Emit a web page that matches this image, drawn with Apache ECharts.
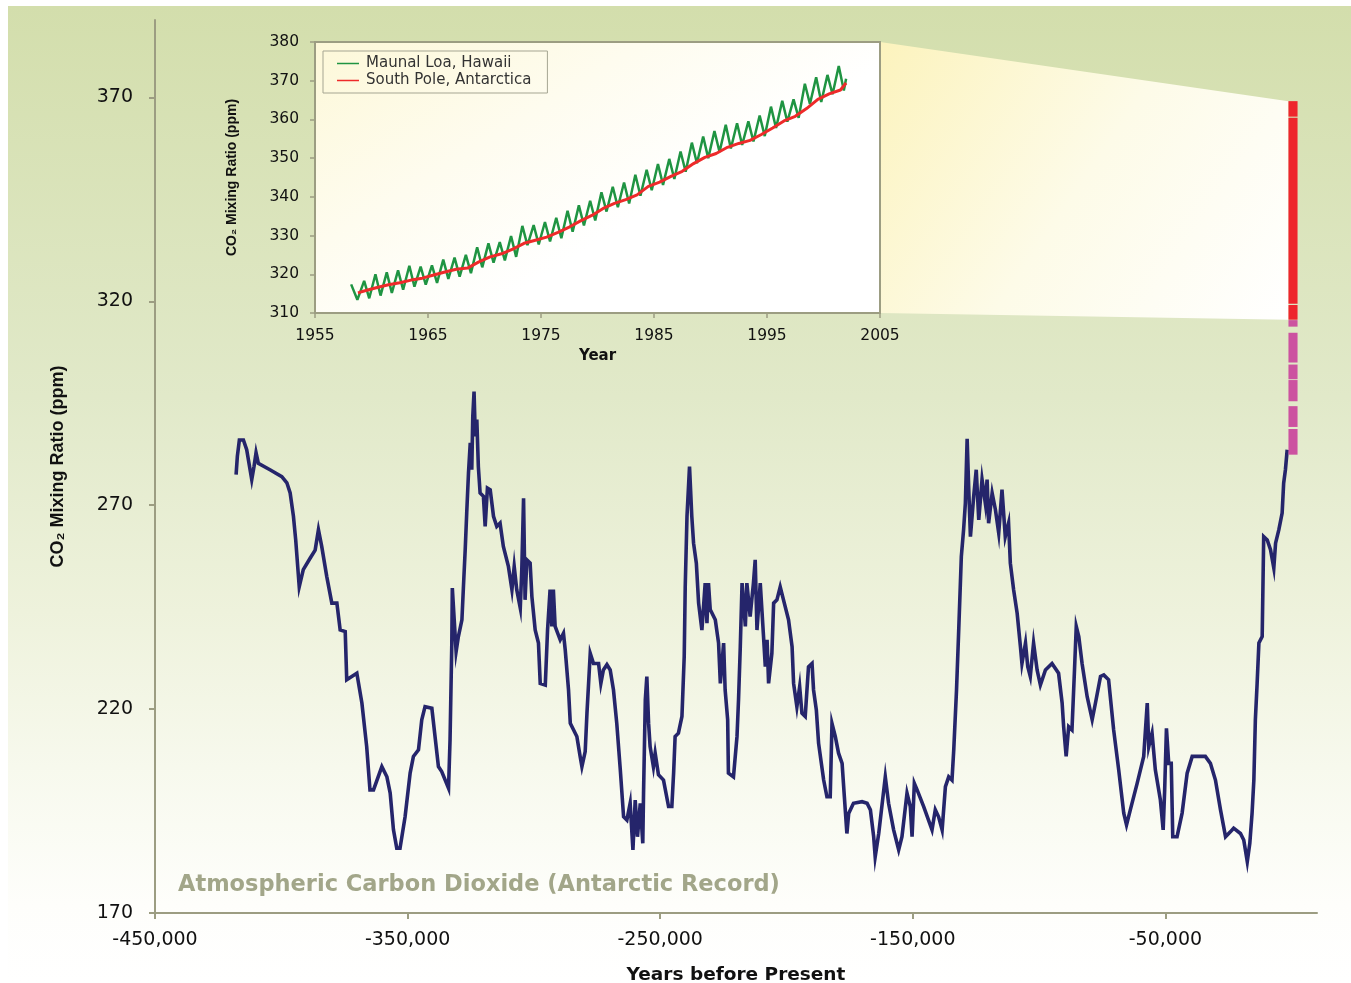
<!DOCTYPE html>
<html>
<head>
<meta charset="utf-8">
<title>Atmospheric Carbon Dioxide (Antarctic Record)</title>
<script src="https://cdn.jsdelivr.net/npm/echarts@6/dist/echarts.min.js"></script>
<style>
  html, body { margin: 0; padding: 0; background: #fff; }
  #main { width: 1351px; height: 983px; }
</style>
</head>
<body>
<div id="main"></div>
<script>
// ice core record, years before present / ppm
var coreYears = [
  -417900, -417400, -416600, -415000, -413700, -411700, -410800, -410000, -409100, -404500,
  -399800, -397800, -396500, -395200, -394300, -392900, -391300, -388600, -386600, -385300,
  -384000, -382000, -380000, -378000, -376700, -374700, -374100, -372100, -370100, -368100,
  -366200, -364900, -363500, -360200, -358200, -356900, -355600, -354300, -353000, -351000,
  -349000, -347700, -345700, -344400, -343100, -340400, -337800, -336500, -333800, -333200,
  -332500, -332300, -330800, -329900, -328500, -327900, -327200, -326600, -325900, -325200,
  -324600, -324200, -323700, -323200, -322600, -322000, -321300, -320000, -319300, -318400,
  -317300, -316000, -314700, -313400, -312100, -310100, -308700, -307800, -306800, -305400,
  -304800, -304100, -303500, -302800, -301500, -300800, -299500, -298200, -297500, -295500,
  -294600, -293600, -292900, -292300, -291600, -289600, -288300, -287600, -286300, -285600,
  -283000, -281700, -281000, -279700, -279000, -277700, -276400, -274400, -273500, -272500,
  -271100, -269800, -268500, -267200, -265800, -264500, -263200, -261900, -260800, -259900,
  -259000, -257900, -256900, -256600, -255900, -255300, -254600, -254000, -252700, -252000,
  -250700, -248700, -246700, -245400, -244700, -244100, -242800, -241400, -240500, -240100,
  -239400, -238400, -237500, -236800, -235700, -234800, -233500, -232200, -231500, -230900,
  -230200, -228200, -226900, -226200, -224900, -224300, -223300, -223000, -221000, -219600,
  -219000, -218300, -217600, -216300, -215700, -214400, -213100, -212400, -211700, -210400,
  -209100, -208400, -207700, -207100, -205800, -205100, -203800, -202500, -201200, -199200,
  -197800, -197200, -195900, -194800, -193900, -192600, -191300, -189900, -189300, -188200,
  -187300, -185300, -184000, -182700, -182000, -180700, -179400, -178000, -177100, -176100,
  -175400, -173500, -170100, -168100, -166800, -165500, -164900, -163500, -160900, -159600,
  -157600, -155600, -154300, -152300, -151000, -150300, -149400, -148300, -145700, -142400,
  -141100, -139800, -138400, -137100, -135800, -134500, -133800, -132700, -131900, -130800,
  -129900, -129200, -128500, -127900, -127200, -125900, -124900, -123900, -122600, -121300,
  -120600, -120000, -118600, -117300, -116000, -114700, -113400, -112100, -111400, -110100,
  -108700, -107400, -106800, -105400, -104500, -103500, -102200, -100800, -99500, -97500,
  -94900, -92300, -90900, -90300, -89300, -88300, -87000, -86000, -85300, -84300,
  -83000, -81000, -79000, -77700, -75700, -74400, -72500, -70500, -68500, -66500,
  -65400, -63900, -61200, -58600, -57200, -56600, -55300, -54000, -52000, -50900,
  -50300, -49600, -48700, -47700, -47100, -45400, -43400, -41400, -39400, -34200,
  -32200, -30200, -28200, -26200, -24300, -23000, -20300, -19000, -17600, -16600,
  -15700, -15000, -14400, -13700, -13000, -11700, -11100, -9700, -8400, -7100,
  -6400, -5100, -3800, -3200, -2500, -1800
];
var corePpm = [
  277.5, 282, 286, 286, 283.6, 276.3, 279.5, 282.9, 280.3, 278.7,
  277, 275.5, 273, 267.3, 261.5, 250, 254.2, 257, 259, 264,
  259.9, 252.5, 246, 246, 239.4, 239, 227.2, 228, 228.8, 221.5,
  210.8, 200.2, 200.2, 205.9, 203.4, 199.4, 190.4, 185.9, 185.9, 193.6,
  204.3, 208.4, 210, 217.4, 220.6, 220.2, 205.9, 204.7, 200.6, 212.5,
  236.2, 249.7, 234.1, 237.8, 241.9, 250, 259.1, 268.1, 277.9, 285.3,
  278.7, 291.8, 297.9, 286.9, 291, 279.5, 273, 272.2, 264.8, 274.2,
  273.8, 267.3, 264.8, 265.6, 259.9, 255, 249.3, 255, 249.3, 244.8,
  254.2, 271.7, 246.8, 256.6, 255.8, 247.6, 239.4, 236.2, 226.3, 225.9,
  239.4, 249.3, 240.3, 249.3, 240.3, 237, 238.6, 234.5, 224.7, 216.5,
  213.3, 208.4, 205.9, 209.6, 219, 233.7, 231.2, 231.2, 226.3, 229.6,
  230.9, 229.6, 224.7, 216.5, 205.1, 193.6, 192.8, 196.9, 185.5, 197.7,
  188.7, 196.9, 187.1, 199.4, 222.3, 228, 216.5, 210.8, 205.9, 209.2,
  203.9, 202.6, 196.1, 196.1, 204.3, 213.3, 214.1, 218.2, 232.9, 250,
  267.3, 279.5, 267.3, 260.7, 255.8, 246, 239.4, 250.9, 241.1, 250.9,
  244.4, 241.9, 236.2, 226.3, 236.2, 224.7, 217.4, 204.3, 203.4, 213.3,
  222.3, 235.3, 250.9, 240.3, 250.9, 242.7, 250.9, 256.6, 239.4, 250.9,
  237.8, 230.4, 237, 226.3, 233.7, 246, 246.8, 250, 246.8, 241.9,
  235.3, 226.3, 220.6, 225.5, 219, 218.2, 230.4, 231.2, 224.7, 219.8,
  211.6, 202.6, 198.5, 198.5, 216.5, 213.3, 209.2, 206.7, 198.5, 189.5,
  194.4, 196.9, 197.3, 196.9, 195.3, 188.7, 183.8, 189.5, 203.4, 196.9,
  190.4, 185.5, 188.7, 199.4, 196.1, 188.7, 201.8, 200.2, 196.1, 190.4,
  195.3, 193.6, 190.4, 201, 203.4, 202.6, 210, 224.7, 238.2, 257.4,
  264, 270.5, 286.3, 274.6, 262.3, 272.2, 278.7, 266.4, 276.3, 270.5,
  276.3, 265.6, 273, 268.9, 263.2, 273.8, 262.3, 265.6, 255.8, 249.3,
  243.5, 235.3, 231.2, 236.2, 230.4, 228, 236.2, 229.6, 225.9, 229.6,
  231.2, 228.8, 221.5, 215.7, 208.4, 215.7, 214.9, 229.6, 240.3, 237.8,
  231.2, 223.1, 217.4, 221.5, 228, 228.4, 227.2, 214.9, 205.1, 194.5,
  191.6, 195.3, 201.8, 208.4, 221.5, 210.8, 214.1, 205.1, 197.7, 190.4,
  200.2, 215.3, 206.7, 206.7, 188.7, 188.7, 194.5, 204.3, 208.4, 208.4,
  206.7, 202.6, 195.3, 188.7, 189.9, 190.8, 189.5, 187.9, 182.6, 187.1,
  194.5, 202.6, 217.4, 226.3, 236.2, 237.8, 262.3, 261.5, 259.1, 254.6,
  260.7, 264, 268.1, 275.4, 278.7, 283.6
];

// recent record drawn as a column at the right end: [low, high] ppm
var recentYear = 500;
var directLow = [315.5, 319.4, 365.3];
var directHigh = [319.1, 365.0, 369.1];
var firnLow = [313.8, 305.0, 300.9, 295.5, 289.2, 282.4];
var firnHigh = [315.4, 312.3, 304.5, 300.7, 294.3, 288.7];

// inset: Mauna Loa (seasonal highs and lows) and South Pole
var mloYears = [
  1958.2, 1958.75, 1959.35, 1959.8, 1960.35, 1960.8, 1961.35, 1961.8, 1962.35, 1962.8,
  1963.35, 1963.8, 1964.35, 1964.8, 1965.35, 1965.8, 1966.35, 1966.8, 1967.35, 1967.8,
  1968.35, 1968.8, 1969.35, 1969.8, 1970.35, 1970.8, 1971.35, 1971.8, 1972.35, 1972.8,
  1973.35, 1973.8, 1974.35, 1974.8, 1975.35, 1975.8, 1976.35, 1976.8, 1977.35, 1977.8,
  1978.35, 1978.8, 1979.35, 1979.8, 1980.35, 1980.8, 1981.35, 1981.8, 1982.35, 1982.8,
  1983.35, 1983.8, 1984.35, 1984.8, 1985.35, 1985.8, 1986.35, 1986.8, 1987.35, 1987.8,
  1988.35, 1988.8, 1989.35, 1989.8, 1990.35, 1990.8, 1991.35, 1991.8, 1992.35, 1992.8,
  1993.35, 1993.8, 1994.35, 1994.8, 1995.35, 1995.8, 1996.35, 1996.8, 1997.35, 1997.8,
  1998.35, 1998.8, 1999.35, 1999.8, 2000.35, 2000.8, 2001.35, 2001.8, 2002.0
];
var mloPpm = [
  317.4, 313.4, 318.3, 313.8, 320.0, 314.5, 320.5, 315.2, 321.0, 316.0,
  322.2, 316.8, 322.0, 317.3, 322.3, 317.8, 323.8, 318.8, 324.3, 319.4,
  325.0, 320.3, 327.0, 321.8, 328.0, 323.0, 328.3, 323.6, 329.9, 324.5,
  332.5, 327.5, 332.7, 327.7, 333.5, 328.5, 334.6, 329.3, 336.4, 331.0,
  337.8, 332.6, 339.0, 333.9, 341.2, 336.2, 342.6, 337.3, 343.7, 338.3,
  345.7, 340.3, 347.0, 341.7, 348.5, 343.1, 349.8, 344.6, 351.7, 346.5,
  354.0, 348.7, 355.6, 350.0, 357.0, 351.6, 358.6, 352.5, 359.0, 353.4,
  359.5, 354.3, 361.0, 355.7, 363.3, 357.8, 364.8, 359.4, 365.2, 360.4,
  369.2, 364.0, 370.9, 364.5, 371.5, 366.5, 373.8, 367.5, 370.5
];
var spoYears = [
  1958.8, 1959.5, 1960.5, 1961.5, 1962.5, 1963.5, 1964.5, 1965.5, 1966.5, 1967.5,
  1968.5, 1969.5, 1970.5, 1971.5, 1972.5, 1973.5, 1974.5, 1975.5, 1976.5, 1977.5,
  1978.5, 1979.5, 1980.5, 1981.5, 1982.5, 1983.5, 1984.5, 1985.5, 1986.5, 1987.5,
  1988.5, 1989.5, 1990.5, 1991.5, 1992.5, 1993.5, 1994.5, 1995.5, 1996.5, 1997.5,
  1998.5, 1999.5, 2000.5, 2001.5, 2002.0
];
var spoPpm = [
  315.2, 315.8, 316.6, 317.3, 317.8, 318.5, 319.0, 319.8, 320.6, 321.3,
  321.6, 323.2, 324.5, 325.3, 326.5, 328.0, 328.8, 329.6, 330.8, 332.2,
  333.8, 335.2, 337.0, 338.3, 339.3, 340.5, 342.7, 343.8, 345.3, 346.6,
  348.6, 350.2, 351.2, 352.8, 353.8, 354.6, 356.1, 357.8, 359.6, 360.8,
  362.8, 365.2, 366.6, 367.6, 369.4
];

var mainXTicks = [-450000, -350000, -250000, -150000, -50000];
var mainYTicks = [170, 220, 270, 320, 370];

var axisGray = '#9c9d82';
var font = 'DejaVu Sans';
var narrow = "'Liberation Sans Narrow', 'Liberation Sans', sans-serif";

function pairs(xs, ys) {
  return xs.map(function (x, i) { return [x, ys[i]]; });
}
function spans(lo, hi) {
  return lo.map(function (v, i) { return [recentYear, v, hi[i]]; });
}
function thousands(v) {
  var s = String(Math.abs(v)).replace(/\B(?=(\d{3})+(?!\d))/g, ',');
  return (v < 0 ? '-' : '') + s;
}
function plain(v) {
  return String(v);
}
function columnItem(params, api) {
  var top = api.coord([api.value(0), api.value(2)]);
  var bottom = api.coord([api.value(0), api.value(1)]);
  var w = api.size([3600, 0])[0];
  return {
    type: 'rect',
    shape: { x: top[0] - w / 2, y: top[1], width: w, height: bottom[1] - top[1] },
    style: { fill: api.visual('color') }
  };
}

var chart = echarts.init(document.getElementById('main'));

var option = {
  animation: false,
  backgroundColor: '#ffffff',
  title: {
    text: 'Atmospheric Carbon Dioxide (Antarctic Record)',
    left: 178,
    top: 874,
    padding: 0,
    textStyle: { color: '#a2a689', fontSize: 22.5, fontWeight: 'bold', fontFamily: font }
  },
  legend: {
    data: ['Maunal Loa, Hawaii', 'South Pole, Antarctica'],
    orient: 'vertical',
    left: 323,
    top: 51,
    padding: [5, 16, 5, 14],
    itemGap: 2,
    icon: 'rect',
    itemWidth: 22,
    itemHeight: 1.5,
    borderColor: '#a5a592',
    borderWidth: 1,
    textStyle: { color: '#333', fontSize: 15, fontFamily: font, padding: [0, 0, 0, 2] }
  },
  graphic: [{
    id: 'bg',
    type: 'rect',
    z: -100,
    silent: true,
    shape: { x: 8, y: 6, width: 1343, height: 977 },
    style: {
      fill: new echarts.graphic.LinearGradient(0, 0, 0, 1, [
        { offset: 0, color: '#d3deac' },
        { offset: 0.4, color: '#e1e9c9' },
        { offset: 0.62, color: '#eef2dc' },
        { offset: 0.78, color: '#f7f9ed' },
        { offset: 0.92, color: '#fefefb' },
        { offset: 1, color: '#ffffff' }
      ])
    }
  }],
  grid: [{
    left: 155, right: 34, top: 20, bottom: 70,
    outerBoundsMode: 'none'
  }, {
    left: 315, top: 42, width: 565, height: 271,
    outerBoundsMode: 'none',
    show: true,
    borderColor: axisGray,
    borderWidth: 2,
    backgroundColor: new echarts.graphic.LinearGradient(0, 0, 0.3, 1, [
      { offset: 0, color: '#fdf8d8' },
      { offset: 0.55, color: '#fefcef' },
      { offset: 1, color: '#ffffff' }
    ])
  }],
  xAxis: [{
    type: 'value',
    gridIndex: 0,
    min: -450000,
    max: 10000,
    name: 'Years before Present',
    nameLocation: 'middle',
    nameGap: 53,
    nameTextStyle: { color: '#111', fontSize: 18.5, fontWeight: 'bold', fontFamily: font },
    axisLine: { onZero: false, lineStyle: { color: axisGray, width: 2 } },
    axisTick: { customValues: mainXTicks, length: 6, lineStyle: { color: axisGray, width: 2 } },
    axisLabel: { customValues: mainXTicks, margin: 18, color: '#111', fontSize: 19, fontFamily: font, formatter: thousands },
    splitLine: { show: false }
  }, {
    type: 'value',
    gridIndex: 1,
    min: 1955,
    max: 2005,
    interval: 10,
    name: 'Year',
    nameLocation: 'middle',
    nameGap: 36,
    nameTextStyle: { color: '#111', fontSize: 15, fontWeight: 'bold', fontFamily: font },
    axisLine: { onZero: false, lineStyle: { color: axisGray, width: 2 } },
    axisTick: { length: 5, lineStyle: { color: axisGray, width: 1.5 } },
    axisLabel: { margin: 15, color: '#111', fontSize: 15.5, fontFamily: font, formatter: plain },
    splitLine: { show: false }
  }],
  yAxis: [{
    type: 'value',
    gridIndex: 0,
    min: 170,
    max: 389,
    name: 'CO\u2082 Mixing Ratio (ppm)',
    nameLocation: 'middle',
    nameGap: 88,
    nameTextStyle: { color: '#111', fontSize: 18, fontWeight: 'bold', fontFamily: narrow },
    axisLine: { onZero: false, lineStyle: { color: axisGray, width: 2 } },
    axisTick: { customValues: mainYTicks, length: 6, lineStyle: { color: axisGray, width: 2 } },
    axisLabel: { customValues: mainYTicks, margin: 22, color: '#111', fontSize: 19, fontFamily: font },
    splitLine: { show: false }
  }, {
    type: 'value',
    gridIndex: 1,
    min: 310,
    max: 380,
    interval: 10,
    name: 'CO\u2082 Mixing Ratio (ppm)',
    nameLocation: 'middle',
    nameGap: 76,
    nameTextStyle: { color: '#111', fontSize: 14, fontWeight: 'bold', fontFamily: narrow },
    axisLine: { onZero: false, lineStyle: { color: axisGray, width: 2 } },
    axisTick: { length: 5, lineStyle: { color: axisGray, width: 1.5 } },
    axisLabel: { margin: 16, color: '#111', fontSize: 15.5, fontFamily: font },
    splitLine: { show: false }
  }],
  series: [{
    name: 'Antarctic ice core',
    type: 'line',
    xAxisIndex: 0,
    yAxisIndex: 0,
    data: pairs(coreYears, corePpm),
    symbol: 'none',
    z: 5,
    color: '#25256b',
    lineStyle: { width: 3.6, color: '#25256b', join: 'miter' }
  }, {
    name: 'Direct measurements',
    type: 'custom',
    xAxisIndex: 0,
    yAxisIndex: 0,
    data: spans(directLow, directHigh),
    renderItem: columnItem,
    color: '#ee262c',
    z: 6
  }, {
    name: 'Firn and ice',
    type: 'custom',
    xAxisIndex: 0,
    yAxisIndex: 0,
    data: spans(firnLow, firnHigh),
    renderItem: columnItem,
    color: '#cc52a0',
    z: 6
  }, {
    name: 'Maunal Loa, Hawaii',
    type: 'line',
    xAxisIndex: 1,
    yAxisIndex: 1,
    data: pairs(mloYears, mloPpm),
    symbol: 'none',
    color: '#1f9442',
    lineStyle: { width: 2.5 }
  }, {
    name: 'South Pole, Antarctica',
    type: 'line',
    xAxisIndex: 1,
    yAxisIndex: 1,
    data: pairs(spoYears, spoPpm),
    symbol: 'none',
    color: '#ee2a2a',
    lineStyle: { width: 3 }
  }]
};

chart.setOption(option);

// zoom wedge from the inset to the recent column
var a = chart.convertToPixel({ gridIndex: 1 }, [2005, 380]);
var b = chart.convertToPixel({ gridIndex: 0 }, [recentYear - 1800, directHigh[directHigh.length - 1]]);
var c = chart.convertToPixel({ gridIndex: 0 }, [recentYear - 1800, directLow[0]]);
var d = chart.convertToPixel({ gridIndex: 1 }, [2005, 310]);
chart.setOption({
  graphic: [{
    id: 'wedge',
    type: 'polygon',
    z: -50,
    silent: true,
    shape: { points: [a, b, c, d] },
    style: {
      fill: new echarts.graphic.LinearGradient(0, 0, 1, 1, [
        { offset: 0, color: '#fcf3bd' },
        { offset: 0.5, color: '#fdfbe8' },
        { offset: 1, color: '#ffffff' }
      ])
    }
  }]
});
</script>
</body>
</html>
